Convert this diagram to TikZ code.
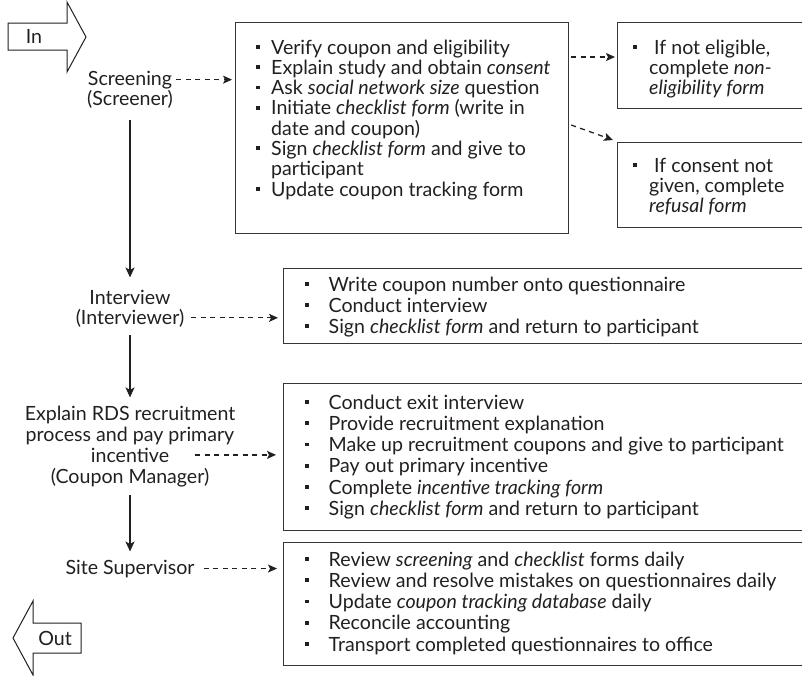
\documentclass[tikz,border=0pt]{standalone}
\usepackage{fontspec}
\setmainfont{Lato}
\usetikzlibrary{arrows.meta,calc}
\definecolor{ink}{HTML}{231F20}
\newcommand\bul[1][15pt]{\makebox[#1][l]{\raisebox{5.2pt}{\rule{3.9pt}{3.9pt}}}}
\newcommand\boxlines[5]{\foreach \t [count=\i from 0] in {#5}{\node[txt,anchor=base west] (#1\i) at (#2,#3+\i*#4) {\t};}}
\tikzset{
  txt/.style={inner sep=0pt, text=ink, font=\fontsize{19.6}{21}\selectfont},
  lbl/.style={txt, anchor=base},
  panel/.style={draw=ink!90, line width=1.2pt, anchor=north west, inner sep=0pt},
  flow/.style={draw=ink, line width=1.3pt, -{Stealth[length=10pt,width=9pt,inset=2.5pt]}},
  task/.style={draw=ink, line width=1.25pt, dash pattern=on 5pt off 4.5pt, -{Stealth[length=9pt,width=8pt,inset=2pt]}},
  bigarrow/.style={draw=ink, line width=1pt, fill=white},
}
\begin{document}
\begin{tikzpicture}[x=1pt,y=-1pt]
\useasboundingbox (0,0) rectangle (802,675);
\clip (0,0) rectangle (802,675);
% In / Out arrows
\draw[bigarrow] (8,23) -- (67,23) -- (67,2) -- (86,37) -- (67,72) -- (67,50) -- (8,50) -- cycle;
\node[lbl] (in) at (34,43) {In};
\draw[bigarrow] (81,623) -- (33,623) -- (33,601) -- (13,638) -- (33,675) -- (33,653) -- (81,653) -- cycle;
\node[lbl] (out) at (55,645) {Out};
% boxes
\node[panel, minimum width=333pt, minimum height=211pt] (box1) at (235,22) {};
\node[panel, minimum width=220pt, minimum height=86pt] (boxA) at (617,22) {};
\node[panel, minimum width=220pt, minimum height=85pt] (boxB) at (617,142) {};
\node[panel, minimum width=540pt, minimum height=75pt] (boxI) at (283,268) {};
\node[panel, minimum width=540pt, minimum height=147pt] (boxE) at (283,383) {};
\node[panel, minimum width=540pt, minimum height=123pt] (boxS) at (283,542) {};
% box texts
\boxlines{ta}{256}{54}{20.3}{\bul Verify coupon and eligibility, \bul Explain study and obtain \textit{consent}, \bul Ask \textit{social network size} question, \bul Initiate \textit{checklist form} (write in, \hspace*{15pt}date and coupon), \bul Sign \textit{checklist form} and give to, \hspace*{15pt}participant, \bul Update coupon tracking form}
\boxlines{tb}{633}{54}{20}{{\bul[16pt] If not eligible,}, \hspace*{16pt}complete \textit{non-}, \hspace*{16pt}\textit{eligibility form}}
\boxlines{tc}{633}{172}{20}{\bul[16pt] If consent not, {\hspace*{16pt}given, complete}, \hspace*{16pt}\textit{refusal form}}
\boxlines{td}{305}{291}{21}{\bul[18.5pt] Write coupon number onto questionnaire, \bul[18.5pt] Conduct interview, \bul[18.5pt] Sign \textit{checklist form} and return to participant}
\boxlines{te}{305}{409}{21.3}{\bul[18.5pt] Conduct exit interview, \bul[18.5pt] Provide recruitment explanation, \bul[18.5pt] Make up recruitment coupons and give to participant, \bul[18.5pt] Pay out primary incentive, \bul[18.5pt] Complete \textit{incentive tracking form}, \bul[18.5pt] Sign \textit{checklist form} and return to participant}
\boxlines{tf}{305}{566}{21.3}{\bul[18.5pt] Review \textit{screening} and \textit{checklist} forms daily, \bul[18.5pt] Review and resolve mistakes on questionnaires daily, \bul[18.5pt] Update \textit{coupon tracking database} daily, \bul[18.5pt] Reconcile accounting, \bul[18.5pt] Transport completed questionnaires to office}
% left labels
\node[lbl] (scr) at (130,85) {Screening};
\node[lbl] (scr2) at (130,105) {(Screener)};
\node[lbl] (int) at (130,304) {Interview};
\node[lbl] (int2) at (130,324) {(Interviewer)};
\node[lbl] (ex1) at (130,420) {Explain RDS recruitment};
\node[lbl] (ex2) at (130,441) {process and pay primary};
\node[lbl] (ex3) at (130,462) {incentive};
\node[lbl] (ex4) at (130,483) {(Coupon Manager)};
\node[lbl] (sup) at (130,574) {Site Supervisor};
% flow arrows
\draw[flow] ([yshift=-12pt]scr2.south) -- ([yshift=12pt]int.north);
\draw[flow] ([yshift=-8pt]int2.south) -- ([yshift=8pt]ex1.north);
\draw[flow] ([yshift=-8pt]ex4.south) -- ([yshift=8pt]sup.north);
% task arrows
\draw[task] ($(scr.east)+(4,0)$) -- ($(box1.west |- scr.east)+(-3,0)$);
\draw[task] ($(int2.east)+(7,0)$) -- ($(boxI.west |- int2.east)+(-5,0)$);
\draw[task] ($(ex3.east)+(26,0)$) -- ($(boxE.west |- ex3.east)+(-7,0)$);
\draw[task] ($(sup.east)+(9,0)$) -- ($(boxS.west |- sup.east)+(-6,0)$);
\draw[task] ($(box1.north east)+(2,35)$) -- ($(boxA.north west)+(-2,35)$);
\draw[task] ($(box1.north east)+(2,103)$) -- ($(boxB.north west)+(-4,-2)$);
\end{tikzpicture}
\end{document}
